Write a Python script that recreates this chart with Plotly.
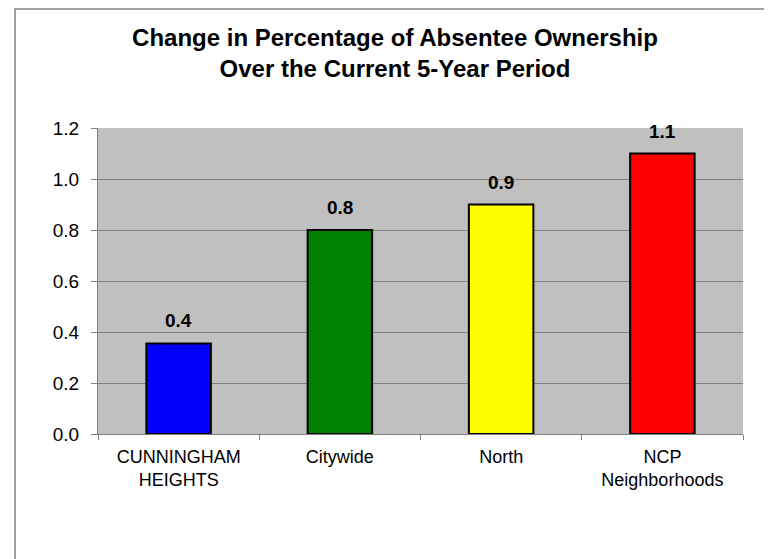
import plotly.graph_objects as go

categories = ["CUNNINGHAM<br>HEIGHTS", "Citywide", "North", "NCP<br>Neighborhoods"]
values = [0.355, 0.8, 0.9, 1.1]
colors = ["#0000FF", "#008000", "#FFFF00", "#FF0000"]
y_ticks = [0.0, 0.2, 0.4, 0.6, 0.8, 1.0, 1.2]
y_tick_labels = ["0.0", "0.2", "0.4", "0.6", "0.8", "1.0", "1.2"]
title_text = "<b>Change in Percentage of Absentee Ownership<br>Over the Current 5-Year Period</b>"

FONT = "Liberation Sans, Arial, sans-serif"

# page body has an 8px margin, so the figure is drawn at (8, 8)
W, H = 764, 551
L, R, T, B = 90, 29, 120, 125
PW = W - L - R
PH = H - T - B

fig = go.Figure()
fig.add_trace(go.Bar(
    x=categories, y=values,
    marker=dict(color=colors, line=dict(color="black", width=2)),
    width=0.4,
    hoverinfo="skip",
))

for c, v in zip(categories, values):
    fig.add_annotation(
        x=c, y=v, text="<b>%.1f</b>" % v, showarrow=False,
        yanchor="bottom", yshift=10,
        font=dict(family=FONT, size=19, color="black"),
    )

# outer chart border (only top/left visible in the reference)
fig.add_shape(type="rect", xref="paper", yref="paper",
              x0=(7 - L) / PW, x1=1.2, y0=-0.6, y1=(T + PH - 1) / PH,
              line=dict(color="#a0a0a0", width=2), fillcolor="rgba(0,0,0,0)", layer="below")

fig.update_layout(
    width=W, height=H,
    margin=dict(l=L, r=R, t=T, b=B),
    paper_bgcolor="white",
    plot_bgcolor="#C0C0C0",
    showlegend=False,
    font=dict(family=FONT, color="black"),
    title=dict(
        text=title_text,
        x=387 / W, xref="container", xanchor="center",
        y=1 - 38 / H, yref="container", yanchor="top",
        font=dict(family=FONT, size=24, color="black"),
    ),
    xaxis=dict(
        showline=True, linecolor="#808080", linewidth=1,
        ticks="outside", tickson="boundaries", ticklen=5, tickcolor="#808080",
        tickfont=dict(family=FONT, size=18, color="black"),
        ticklabelstandoff=6,
        showgrid=False,
    ),
    yaxis=dict(
        range=[0, 1.2],
        tickvals=y_ticks, ticktext=y_tick_labels,
        showline=True, linecolor="#808080", linewidth=1,
        ticks="outside", ticklen=6, tickcolor="#808080",
        tickfont=dict(family=FONT, size=19, color="black"),
        ticklabelstandoff=8,
        showgrid=True, gridcolor="#808080", gridwidth=1,
        zeroline=False,
    ),
)

fig.write_html("out.html")
